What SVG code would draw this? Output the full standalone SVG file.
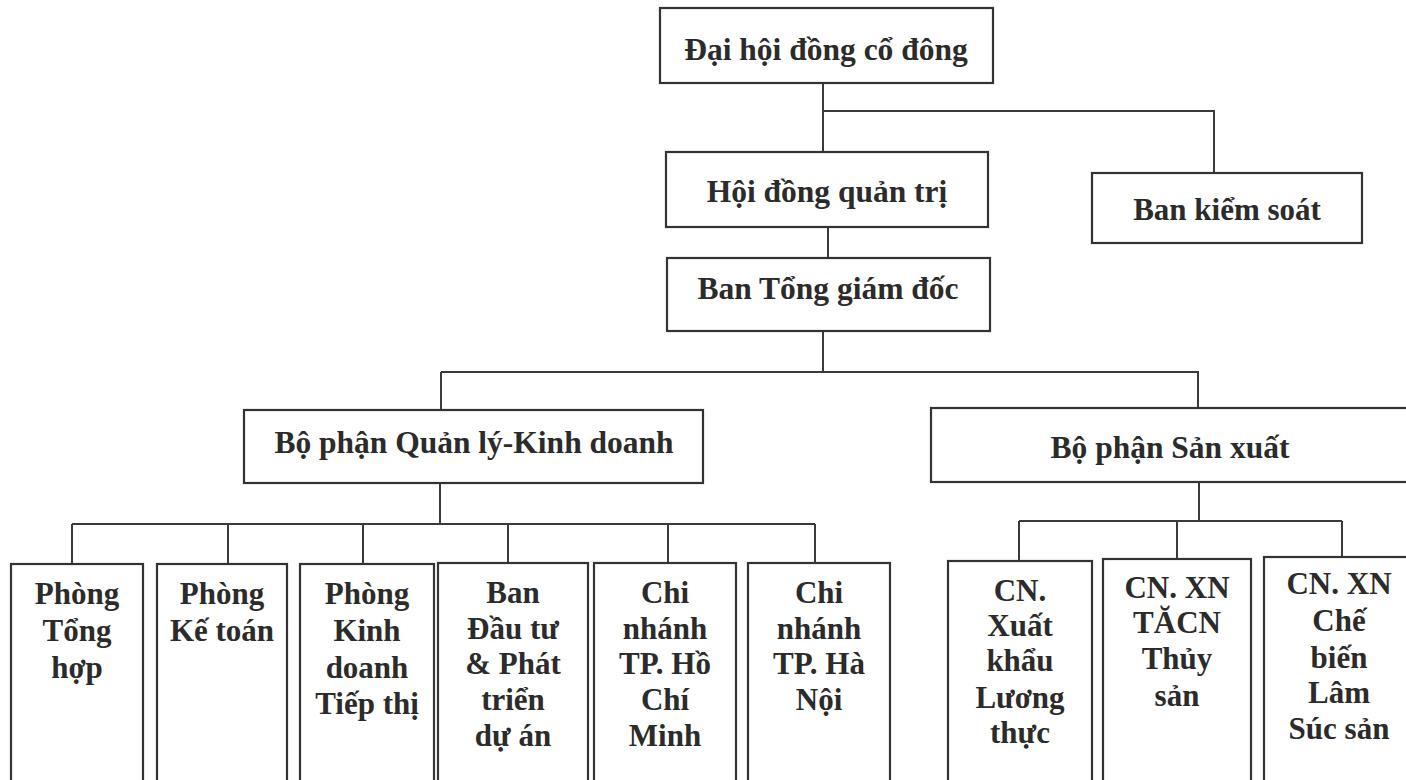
<svg xmlns="http://www.w3.org/2000/svg" width="1406" height="780" viewBox="0 0 1406 780">
<style>
rect.b{fill:#fff;stroke:#333;stroke-width:2.2}
.c line,.c path{stroke:#3a3a3a;stroke-width:2;fill:none}
text{font-family:"Liberation Serif","Times New Roman",serif;font-weight:bold;fill:#2b2b2b;text-anchor:middle}
.t{font-size:31.5px}
.s{font-size:31px}
</style>
<rect width="1406" height="780" fill="#fff"/>
<g class="c" id="connectors">
<path d="M823 83 V152"/>
<path d="M823 111 H1214 V173"/>
<path d="M828 227 V258"/>
<path d="M823 331 V372"/>
<path d="M441 372 H1198 V408"/>
<path d="M441 372 V410"/>
<path d="M440 483 V524"/>
<path d="M72 524 H815"/>
<path d="M72 524 V564"/>
<path d="M228 524 V564"/>
<path d="M363 524 V564"/>
<path d="M508 524 V563"/>
<path d="M668 524 V563"/>
<path d="M815 524 V563"/>
<path d="M1199 482 V521"/>
<path d="M1019 521 H1342"/>
<path d="M1019 521 V561"/>
<path d="M1177 521 V559"/>
<path d="M1342 521 V557"/>
</g>
<g id="n-dhdcd"><rect class="b" x="660" y="8" width="333" height="75"/><text class="t" x="826" y="60">Đại hội đồng cổ đông</text></g>
<g id="n-hdqt"><rect class="b" x="666" y="152" width="322" height="75"/><text class="t" x="827" y="202">Hội đồng quản trị</text></g>
<g id="n-bks"><rect class="b" x="1092" y="173" width="270" height="70"/><text class="s" x="1227" y="220">Ban kiểm soát</text></g>
<g id="n-btgd"><rect class="b" x="667" y="258" width="323" height="73"/><text class="t" x="828" y="299">Ban Tổng giám đốc</text></g>
<g id="n-qlkd"><rect class="b" x="244" y="410" width="459" height="73"/><text class="t" x="474" y="453">Bộ phận Quản lý-Kinh doanh</text></g>
<g id="n-sx"><rect class="b" x="931" y="408" width="485" height="74"/><text class="t" x="1170" y="458">Bộ phận Sản xuất</text></g>
<g id="n-p1"><rect class="b" x="11" y="564" width="132" height="230"/><text class="s" x="77"><tspan x="77" y="604">Phòng</tspan><tspan x="77" y="641">Tổng</tspan><tspan x="77" y="678">hợp</tspan></text></g>
<g id="n-p2"><rect class="b" x="157" y="564" width="130" height="230"/><text class="s" x="222"><tspan x="222" y="604">Phòng</tspan><tspan x="222" y="641">Kế toán</tspan></text></g>
<g id="n-p3"><rect class="b" x="300" y="564" width="134" height="230"/><text class="s" x="367"><tspan x="367" y="604">Phòng</tspan><tspan x="367" y="641">Kinh</tspan><tspan x="367" y="678">doanh</tspan><tspan x="367" y="714">Tiếp thị</tspan></text></g>
<g id="n-p4"><rect class="b" x="438" y="563" width="150" height="230"/><text class="s" x="513"><tspan x="513" y="603">Ban</tspan><tspan x="513" y="639">Đầu tư</tspan><tspan x="513" y="674">&amp; Phát</tspan><tspan x="513" y="710">triển</tspan><tspan x="513" y="746">dự án</tspan></text></g>
<g id="n-p5"><rect class="b" x="594" y="563" width="142" height="230"/><text class="s" x="665"><tspan x="665" y="603">Chi</tspan><tspan x="665" y="639">nhánh</tspan><tspan x="665" y="674">TP. Hồ</tspan><tspan x="665" y="710">Chí</tspan><tspan x="665" y="746">Minh</tspan></text></g>
<g id="n-p6"><rect class="b" x="748" y="563" width="142" height="230"/><text class="s" x="819"><tspan x="819" y="603">Chi</tspan><tspan x="819" y="639">nhánh</tspan><tspan x="819" y="674">TP. Hà</tspan><tspan x="819" y="710">Nội</tspan></text></g>
<g id="n-s1"><rect class="b" x="948" y="561" width="144" height="230"/><text class="s" x="1020"><tspan x="1020" y="601">CN.</tspan><tspan x="1020" y="636">Xuất</tspan><tspan x="1020" y="671">khẩu</tspan><tspan x="1020" y="708">Lương</tspan><tspan x="1020" y="743">thực</tspan></text></g>
<g id="n-s2"><rect class="b" x="1103" y="559" width="148" height="232"/><text class="s" x="1177"><tspan x="1177" y="598">CN. XN</tspan><tspan x="1177" y="633">TĂCN</tspan><tspan x="1177" y="669">Thủy</tspan><tspan x="1177" y="706">sản</tspan></text></g>
<g id="n-s3"><rect class="b" x="1264" y="557" width="150" height="234"/><text class="s" x="1339"><tspan x="1339" y="594">CN. XN</tspan><tspan x="1339" y="631">Chế</tspan><tspan x="1339" y="668">biến</tspan><tspan x="1339" y="703">Lâm</tspan><tspan x="1339" y="739">Súc sản</tspan></text></g>
</svg>
